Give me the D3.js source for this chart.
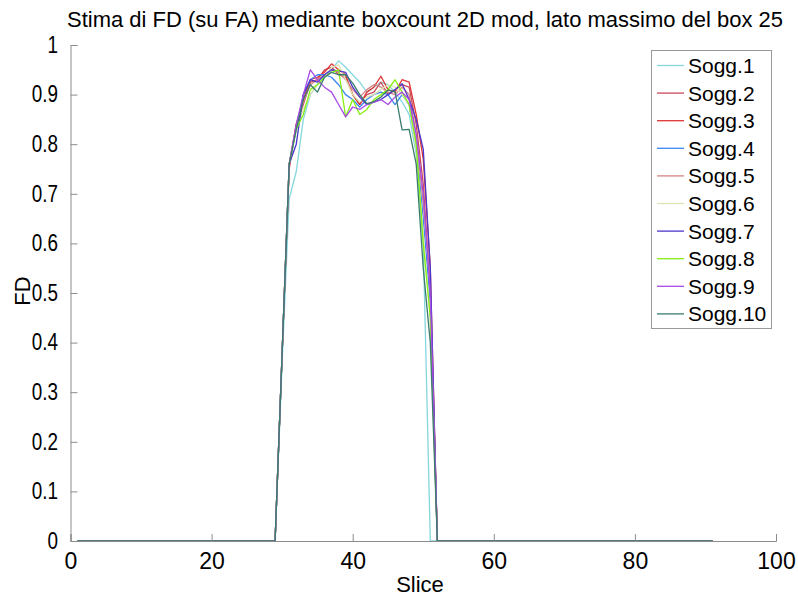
<!DOCTYPE html>
<html><head><meta charset="utf-8">
<script src="https://cdn.jsdelivr.net/npm/d3@7"></script>
<style>
body{margin:0;background:#fff;}
svg{display:block;}
text{font-family:"Liberation Sans",Arial,Helvetica,sans-serif;fill:#000;}
</style></head>
<body>
<svg id="chart" width="798" height="598"></svg>
<script>
const titleText = "Stima di FD (su FA) mediante boxcount 2D mod, lato massimo del box 25";
const xLabel = "Slice";
const yLabel = "FD";
const seriesNames = ["Sogg.1","Sogg.2","Sogg.3","Sogg.4","Sogg.5","Sogg.6","Sogg.7","Sogg.8","Sogg.9","Sogg.10"];
const seriesColors = ["#86d6de","#c94a5c","#e03434","#3a86f2","#d58484","#dde4b4","#4a36cc","#86ee12","#a74ae6","#3a7c6e"];
const xTicks = [0,20,40,60,80,100];
const yTicks = [0,0.1,0.2,0.3,0.4,0.5,0.6,0.7,0.8,0.9,1];
const slices = [1,2,3,4,5,6,7,8,9,10,11,12,13,14,15,16,17,18,19,20,21,22,23,24,25,26,27,28,29,30,31,32,33,34,35,36,37,38,39,40,41,42,43,44,45,46,47,48,49,50,51,52,53,54,55,56,57,58,59,60,61,62,63,64,65,66,67,68,69,70,71,72,73,74,75,76,77,78,79,80,81,82,83,84,85,86,87,88,89,90,91];

const sogg1  = [0,0,0,0,0,0,0,0,0,0,0,0,0,0,0,0,0,0,0,0,0,0,0,0,0,0,0,0,0, 0.36,0.69,0.745,0.85,0.9,0.92,0.935,0.95,0.968,0.955,0.94,0.925,0.905,0.915,0.925,0.92,0.905,0.885,0.86,0.78,0.6,0, 0,0,0,0,0,0,0,0,0,0,0,0,0,0,0,0,0,0,0,0,0,0,0,0,0,0,0,0,0,0,0,0,0,0,0,0,0,0,0,0];
const sogg2  = [0,0,0,0,0,0,0,0,0,0,0,0,0,0,0,0,0,0,0,0,0,0,0,0,0,0,0,0,0, 0.38,0.76,0.84,0.88,0.925,0.93,0.95,0.955,0.94,0.935,0.9,0.88,0.9,0.905,0.925,0.9,0.91,0.92,0.915,0.84,0.72,0.5, 0,0,0,0,0,0,0,0,0,0,0,0,0,0,0,0,0,0,0,0,0,0,0,0,0,0,0,0,0,0,0,0,0,0,0,0,0,0,0,0];
const sogg3  = [0,0,0,0,0,0,0,0,0,0,0,0,0,0,0,0,0,0,0,0,0,0,0,0,0,0,0,0,0, 0.38,0.75,0.84,0.89,0.93,0.935,0.945,0.962,0.95,0.94,0.9,0.88,0.905,0.915,0.937,0.91,0.905,0.93,0.925,0.86,0.77,0.55, 0,0,0,0,0,0,0,0,0,0,0,0,0,0,0,0,0,0,0,0,0,0,0,0,0,0,0,0,0,0,0,0,0,0,0,0,0,0,0,0];
const sogg4  = [0,0,0,0,0,0,0,0,0,0,0,0,0,0,0,0,0,0,0,0,0,0,0,0,0,0,0,0,0, 0.38,0.76,0.83,0.9,0.93,0.94,0.94,0.935,0.92,0.9,0.89,0.875,0.89,0.9,0.905,0.9,0.88,0.9,0.88,0.8,0.65,0.48, 0,0,0,0,0,0,0,0,0,0,0,0,0,0,0,0,0,0,0,0,0,0,0,0,0,0,0,0,0,0,0,0,0,0,0,0,0,0,0,0];
const sogg5  = [0,0,0,0,0,0,0,0,0,0,0,0,0,0,0,0,0,0,0,0,0,0,0,0,0,0,0,0,0, 0.38,0.76,0.835,0.885,0.92,0.93,0.94,0.95,0.945,0.93,0.91,0.895,0.91,0.92,0.915,0.905,0.9,0.915,0.9,0.82,0.68,0.52, 0,0,0,0,0,0,0,0,0,0,0,0,0,0,0,0,0,0,0,0,0,0,0,0,0,0,0,0,0,0,0,0,0,0,0,0,0,0,0,0];
const sogg6  = [0,0,0,0,0,0,0,0,0,0,0,0,0,0,0,0,0,0,0,0,0,0,0,0,0,0,0,0,0, 0.38,0.76,0.83,0.87,0.9,0.92,0.935,0.955,0.96,0.93,0.9,0.885,0.895,0.9,0.91,0.92,0.915,0.9,0.88,0.79,0.62,0.45, 0,0,0,0,0,0,0,0,0,0,0,0,0,0,0,0,0,0,0,0,0,0,0,0,0,0,0,0,0,0,0,0,0,0,0,0,0,0,0,0];
const sogg7  = [0,0,0,0,0,0,0,0,0,0,0,0,0,0,0,0,0,0,0,0,0,0,0,0,0,0,0,0,0, 0.38,0.76,0.8,0.9,0.93,0.925,0.94,0.95,0.948,0.945,0.915,0.895,0.88,0.885,0.89,0.9,0.91,0.922,0.89,0.85,0.79,0.55, 0,0,0,0,0,0,0,0,0,0,0,0,0,0,0,0,0,0,0,0,0,0,0,0,0,0,0,0,0,0,0,0,0,0,0,0,0,0,0,0];
const sogg8  = [0,0,0,0,0,0,0,0,0,0,0,0,0,0,0,0,0,0,0,0,0,0,0,0,0,0,0,0,0, 0.38,0.76,0.83,0.86,0.91,0.92,0.935,0.945,0.95,0.855,0.89,0.86,0.87,0.89,0.9,0.91,0.93,0.905,0.88,0.8,0.6,0.45, 0,0,0,0,0,0,0,0,0,0,0,0,0,0,0,0,0,0,0,0,0,0,0,0,0,0,0,0,0,0,0,0,0,0,0,0,0,0,0,0];
const sogg9  = [0,0,0,0,0,0,0,0,0,0,0,0,0,0,0,0,0,0,0,0,0,0,0,0,0,0,0,0,0, 0.38,0.76,0.84,0.9,0.95,0.93,0.915,0.905,0.88,0.855,0.875,0.87,0.88,0.885,0.89,0.88,0.895,0.905,0.89,0.82,0.7,0.5, 0,0,0,0,0,0,0,0,0,0,0,0,0,0,0,0,0,0,0,0,0,0,0,0,0,0,0,0,0,0,0,0,0,0,0,0,0,0,0,0];
const sogg10 = [0,0,0,0,0,0,0,0,0,0,0,0,0,0,0,0,0,0,0,0,0,0,0,0,0,0,0,0,0, 0.38,0.76,0.83,0.89,0.92,0.905,0.935,0.945,0.94,0.94,0.923,0.9,0.882,0.886,0.895,0.909,0.906,0.829,0.83,0.76,0.55,0.4, 0,0,0,0,0,0,0,0,0,0,0,0,0,0,0,0,0,0,0,0,0,0,0,0,0,0,0,0,0,0,0,0,0,0,0,0,0,0,0,0];

const seriesValues = [sogg1,sogg2,sogg3,sogg4,sogg5,sogg6,sogg7,sogg8,sogg9,sogg10];

const svg = d3.select("#chart");
const L = 70.5, R = 776, T = 45, B = 541;
const x = d3.scaleLinear().domain([0,100]).range([L,R]);
const y = d3.scaleLinear().domain([0,1]).range([B,T]);

// lines
const line = d3.line().x((d,i)=>x(slices[i])).y(d=>y(d));
seriesValues.forEach((vals,k)=>{
  svg.append("path").datum(vals).attr("d",line)
    .attr("fill","none").attr("stroke",seriesColors[k]).attr("stroke-width",1.3)
    .attr("stroke-linejoin","round");
});

// axes (box off, ticks inward)
const axisColor = "#8c8c8c";
const gx = svg.append("g").attr("transform",`translate(0,${B})`)
  .call(d3.axisBottom(x).tickValues(xTicks).tickSize(-7).tickPadding(12).tickFormat(d3.format("d")));
const gy = svg.append("g").attr("transform",`translate(${L},0)`)
  .call(d3.axisLeft(y).tickValues(yTicks).tickSize(-7).tickPadding(12.5).tickFormat(d=>d===0||d===1?String(d):d3.format(".1f")(d)));
[gx,gy].forEach(g=>{
  g.select(".domain").attr("stroke",axisColor).attr("stroke-width",1);
  g.selectAll(".tick line").attr("stroke",axisColor);
  g.selectAll(".tick text").attr("fill","#000").style("font-family","Liberation Sans, Arial, sans-serif");
});
gx.selectAll(".tick text").attr("font-size",23);
gy.selectAll(".tick text").attr("font-size",23).each(function(){
  const w = this.getComputedTextLength();
  d3.select(this).attr("textLength", w*0.82).attr("lengthAdjust","spacingAndGlyphs");
});

// title and labels
svg.append("text").attr("x",425).attr("y",27).attr("text-anchor","middle")
  .attr("font-size",22).attr("textLength",716).attr("lengthAdjust","spacingAndGlyphs").text(titleText);
svg.append("text").attr("x",420).attr("y",592).attr("text-anchor","middle")
  .attr("font-size",22).text(xLabel);
svg.append("text").attr("transform",`translate(30,${291}) rotate(-90)`).attr("text-anchor","middle")
  .attr("font-size",22).text(yLabel);

// legend
const lg = svg.append("g");
const lx = 651.5, ly = 50.5, lw = 120, lh = 278;
lg.append("rect").attr("x",lx).attr("y",ly).attr("width",lw).attr("height",lh)
  .attr("fill","#fff").attr("stroke","#999").attr("stroke-width",1);
seriesNames.forEach((n,k)=>{
  const yy = 65.5 + k*27.6;
  lg.append("line").attr("x1",657).attr("x2",684).attr("y1",yy).attr("y2",yy)
    .attr("stroke",seriesColors[k]).attr("stroke-width",1.3);
  lg.append("text").attr("x",688).attr("y",yy+7.5).attr("font-size",21).text(n);
});
</script>
</body></html>
